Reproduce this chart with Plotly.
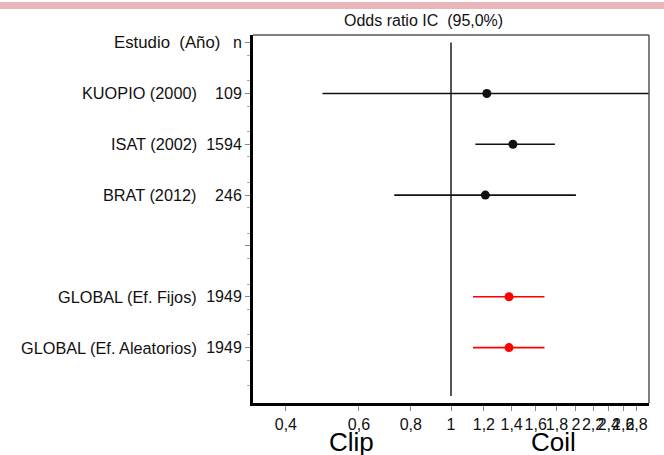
import math
import plotly.graph_objects as go

# ---- data ----
studies = ["KUOPIO (2000)", "ISAT (2002)", "BRAT (2012)", "GLOBAL (Ef. Fijos)", "GLOBAL (Ef. Aleatorios)"]
n_vals = ["109", "1594", "246", "1949", "1949"]
rows = [1, 2, 3, 5, 6]
odds = [1.22, 1.41, 1.21, 1.38, 1.38]
ci_lo = [0.49, 1.145, 0.73, 1.13, 1.13]
ci_hi = [3.05, 1.78, 2.00, 1.68, 1.68]
is_global = [False, False, False, True, True]

x_tickvals = [0.4, 0.6, 0.8, 1, 1.2, 1.4, 1.6, 1.8, 2, 2.2, 2.4, 2.6, 2.8]
x_ticktext = ["0,4", "0,6", "0,8", "1", "1,2", "1,4", "1,6", "1,8", "2", "2,2", "2,4", "2,6", "2,8"]
y_tickvals = [0, 1, 2, 3, 4, 5, 6]
y_ticktext = ["n", "109", "1594", "246", "", "1949", "1949"]
header = "Estudio  (Año)"
title = "Odds ratio IC  (95,0%)"
bottom_labels = ["Clip", "Coil"]

FONT = "Liberation Sans, Arial, sans-serif"
W, H = 664, 455
L, R, T, B = 253, 15, 35, 52
pw, ph = W - L - R, H - T - B

fig = go.Figure()

# reference line at OR = 1
fig.add_trace(go.Scatter(x=[1, 1], y=[0, 6.95], mode="lines",
                         line=dict(color="#444444", width=1.8), hoverinfo="skip", showlegend=False))

for grp, col in [(False, "#111111"), (True, "#ff0000")]:
    xs, ys = [], []
    for lo, hi, r, g in zip(ci_lo, ci_hi, rows, is_global):
        if g == grp:
            xs += [lo, hi, None]
            ys += [r, r, None]
    fig.add_trace(go.Scatter(x=xs, y=ys, mode="lines", line=dict(color=col, width=1.6),
                             showlegend=False, hoverinfo="skip"))
    fig.add_trace(go.Scatter(x=[o for o, g in zip(odds, is_global) if g == grp],
                             y=[r for r, g in zip(rows, is_global) if g == grp],
                             mode="markers", marker=dict(color=col, size=9, symbol="circle"),
                             showlegend=False, cliponaxis=False))

annotations = []
for name, r in zip(studies, rows):
    annotations.append(dict(text=name, xref="paper", yref="y", x=(199 - L) / pw, y=r,
                            xanchor="right", yanchor="middle", showarrow=False,
                            font=dict(family=FONT, size=16.3, color="#111111")))
annotations.append(dict(text=header, xref="paper", yref="y", x=(222 - L) / pw, y=0,
                        xanchor="right", yanchor="middle", showarrow=False,
                        font=dict(family=FONT, size=16.8, color="#111111")))
annotations.append(dict(text=title, xref="paper", yref="paper", x=(423 - L) / pw,
                        y=1 + (T - 21) / ph, xanchor="center", yanchor="middle", showarrow=False,
                        font=dict(family=FONT, size=16, color="#111111")))
for txt, cx in zip(bottom_labels, [351, 553]):
    annotations.append(dict(text=txt, xref="paper", yref="paper", x=(cx - L) / pw,
                            y=-(442 - (T + ph)) / ph, xanchor="center", yanchor="middle",
                            showarrow=False, font=dict(family=FONT, size=26, color="#000000")))

shapes = [
    # pink band at the very top
    dict(type="rect", xref="paper", yref="paper", x0=-L / pw, x1=(W - L) / pw,
         y0=1 + (T - 9) / ph, y1=1 + (T - 2) / ph, fillcolor="#e8b5b9", line=dict(width=0), layer="above"),
    # top and right frame lines
    dict(type="line", xref="paper", yref="paper", x0=0, x1=1, y0=1, y1=1,
         line=dict(color="#555555", width=1.5)),
    dict(type="line", xref="paper", yref="paper", x0=1, x1=1, y0=0, y1=1,
         line=dict(color="#555555", width=1.5)),
]

fig.update_layout(
    width=W, height=H, margin=dict(l=L, r=R, t=T, b=B),
    paper_bgcolor="white", plot_bgcolor="white",
    font=dict(family=FONT, size=16, color="#111111"),
    annotations=annotations, shapes=shapes, showlegend=False,
)
fig.update_xaxes(type="log", range=[math.log10(1 / 3), math.log10(3)],
                 tickmode="array", tickvals=x_tickvals, ticktext=x_ticktext, tickangle=0,
                 showgrid=False, zeroline=False, showline=True, linecolor="#000000", linewidth=3,
                 ticks="outside", ticklen=5, tickcolor="#888888", tickwidth=1,
                 tickfont=dict(family=FONT, size=16, color="#111111"))
fig.update_yaxes(range=[7.09, -0.15], tickmode="array", tickvals=y_tickvals, ticktext=y_ticktext,
                 showgrid=False, zeroline=False, showline=True, linecolor="#000000", linewidth=3,
                 ticks="outside", ticklen=5, tickcolor="#888888", tickwidth=1,
                 tickfont=dict(family=FONT, size=16, color="#111111"),
                 minor=dict(dtick=0.5, tick0=0.25, ticks="outside", ticklen=3, tickcolor="#aaaaaa"))

fig.write_html("out.html")
